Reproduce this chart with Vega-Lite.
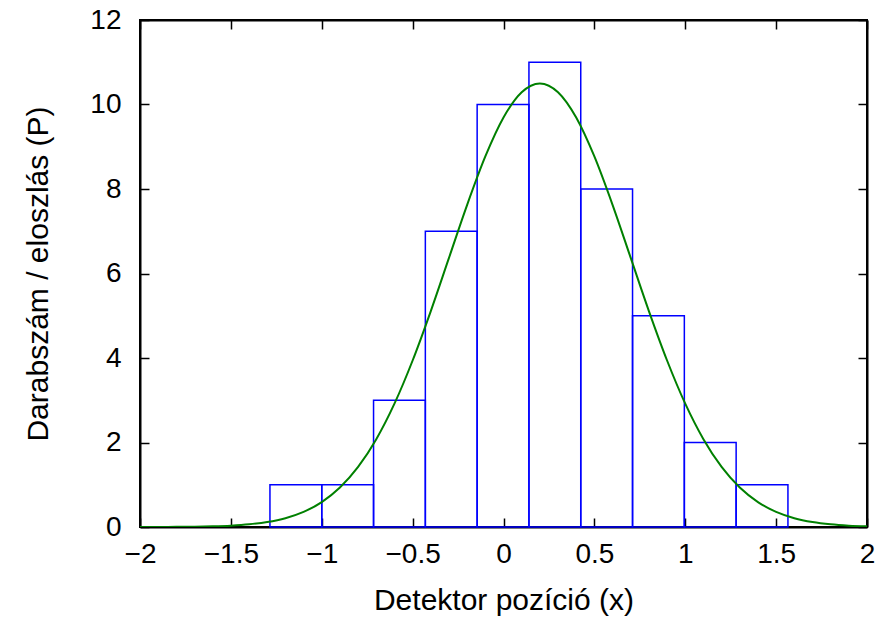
{
  "$schema": "https://vega.github.io/schema/vega-lite/v6.json",
  "width": 727,
  "height": 507,
  "autosize": {"type": "none"},
  "padding": {"left": 140, "top": 20, "right": 29, "bottom": 96},
  "background": "white",
  "config": {
    "view": {"stroke": "black", "strokeWidth": 2},
    "font": "Liberation Sans",
    "axis": {
      "labelFont": "Liberation Sans",
      "titleFont": "Liberation Sans",
      "labelFontSize": 28,
      "titleFontSize": 30,
      "titleFontWeight": "normal",
      "labelColor": "black",
      "titleColor": "black",
      "grid": false,
      "domainColor": "black",
      "domainWidth": 2,
      "tickColor": "black",
      "tickWidth": 1.5,
      "tickSize": -9,
      "format": "~g"
    }
  },
  "datasets": {
    "hist": [
      {"lo": -1.285, "hi": -1.0, "count": 1},
      {"lo": -1.0, "hi": -0.715, "count": 1},
      {"lo": -0.715, "hi": -0.43, "count": 3},
      {"lo": -0.43, "hi": -0.145, "count": 7},
      {"lo": -0.145, "hi": 0.14, "count": 10},
      {"lo": 0.14, "hi": 0.425, "count": 11},
      {"lo": 0.425, "hi": 0.71, "count": 8},
      {"lo": 0.71, "hi": 0.995, "count": 5},
      {"lo": 0.995, "hi": 1.28, "count": 2},
      {"lo": 1.28, "hi": 1.565, "count": 1}
    ],
    "curve": [
      {"x": -2.0, "p": 0.00066}, {"x": -1.9, "p": 0.00155}, {"x": -1.8, "p": 0.00352},
      {"x": -1.7, "p": 0.00769}, {"x": -1.6, "p": 0.0161}, {"x": -1.5, "p": 0.0324},
      {"x": -1.4, "p": 0.0628}, {"x": -1.3, "p": 0.1167}, {"x": -1.2, "p": 0.2083},
      {"x": -1.1, "p": 0.3575}, {"x": -1.0, "p": 0.5894}, {"x": -0.9, "p": 0.9336},
      {"x": -0.8, "p": 1.421}, {"x": -0.7, "p": 2.078}, {"x": -0.6, "p": 2.919},
      {"x": -0.5, "p": 3.941}, {"x": -0.4, "p": 5.111}, {"x": -0.3, "p": 6.369},
      {"x": -0.2, "p": 7.625}, {"x": -0.1, "p": 8.770}, {"x": 0.0, "p": 9.693},
      {"x": 0.1, "p": 10.292}, {"x": 0.2, "p": 10.5}, {"x": 0.3, "p": 10.292},
      {"x": 0.4, "p": 9.693}, {"x": 0.5, "p": 8.770}, {"x": 0.6, "p": 7.625},
      {"x": 0.7, "p": 6.369}, {"x": 0.8, "p": 5.111}, {"x": 0.9, "p": 3.941},
      {"x": 1.0, "p": 2.919}, {"x": 1.1, "p": 2.078}, {"x": 1.2, "p": 1.421},
      {"x": 1.3, "p": 0.9336}, {"x": 1.4, "p": 0.5894}, {"x": 1.5, "p": 0.3575},
      {"x": 1.6, "p": 0.2083}, {"x": 1.7, "p": 0.1167}, {"x": 1.8, "p": 0.0628},
      {"x": 1.9, "p": 0.0324}, {"x": 2.0, "p": 0.0161}
    ]
  },
  "layer": [
    {
      "data": {"name": "hist"},
      "mark": {"type": "rect", "fill": "transparent", "stroke": "#0000ff", "strokeWidth": 1.5},
      "encoding": {
        "x": {
          "field": "lo", "type": "quantitative",
          "scale": {"domain": [-2, 2], "nice": false, "zero": false},
          "axis": {"orient": "bottom", "title": "Detektor pozíció (x)", "values": [-2, -1.5, -1, -0.5, 0, 0.5, 1, 1.5, 2], "labelPadding": 22, "titlePadding": 17, "labelFlush": false}
        },
        "x2": {"field": "hi"},
        "y": {
          "field": "count", "type": "quantitative",
          "scale": {"domain": [0, 12], "nice": false},
          "axis": {"orient": "left", "title": "Darabszám / eloszlás (P)", "values": [0, 2, 4, 6, 8, 10, 12], "labelPadding": 28, "titlePadding": 36, "labelFlush": false}
        },
        "y2": {"datum": 0}
      }
    },
    {
      "data": {"name": "curve"},
      "mark": {"type": "line", "color": "#008000", "strokeWidth": 2, "interpolate": "monotone", "clip": true},
      "encoding": {
        "x": {
          "field": "x", "type": "quantitative",
          "axis": {"orient": "top", "title": null, "labels": false, "values": [-2, -1.5, -1, -0.5, 0, 0.5, 1, 1.5, 2]}
        },
        "y": {
          "field": "p", "type": "quantitative",
          "axis": {"orient": "right", "title": null, "labels": false, "values": [0, 2, 4, 6, 8, 10, 12]}
        }
      }
    }
  ],
  "resolve": {"axis": {"x": "independent", "y": "independent"}}
}
